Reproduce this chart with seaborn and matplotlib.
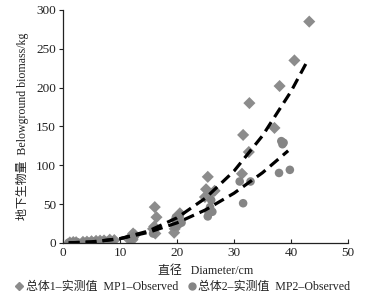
import seaborn as sns
import pandas as pd
import matplotlib.pyplot as plt
import numpy as np
from matplotlib.lines import Line2D

sns.set_theme(style='white')
plt.rcParams['font.family'] = ['Liberation Serif', 'Noto Sans CJK SC']
plt.rcParams['axes.unicode_minus'] = False

# observed points, MP1 (diamonds)
mp1_x = [1.2, 1.8, 2.3, 3.5, 4.2, 5.0, 5.8, 6.5, 7.2, 8.2, 9.0,
         11.5, 12.0, 12.3, 12.6, 12.2,
         16.1, 16.4, 16.0, 16.2, 15.8,
         19.5, 19.6, 20.0, 20.2, 19.8, 20.5,
         24.9, 25.1, 25.4, 26.6, 25.7,
         31.4, 31.6, 32.6, 32.7,
         37.1, 38.0, 40.6, 43.2]
mp1_y = [0.5, 1, 0.8, 1.2, 1.5, 2, 2.5, 2.8, 3, 4, 3.5,
         5, 8, 12, 10, 4,
         46, 33, 21, 12, 18,
         13, 18, 25, 33, 30, 38,
         59, 69, 85, 67, 62,
         89, 139, 117, 180,
         148, 202, 235, 285]

# observed points, MP2 (circles)
mp2_x = [1.0, 1.5, 2.0, 2.5, 3.8, 4.5, 5.5, 6.2, 7.0, 7.8, 8.5,
         11.8, 12.3, 12.6,
         16.0, 15.8,
         19.6, 20.0, 20.5, 20.8, 20.3, 19.8,
         25.4, 25.6, 25.8, 26.0, 25.5, 26.2,
         31.0, 31.6, 32.9,
         37.9, 38.3, 38.7, 38.5, 39.8]
mp2_y = [0.3, 0.5, 0.6, 0.8, 1, 1.2, 1.5, 2, 2.2, 2.5, 3,
         5, 7, 9,
         16, 12,
         21, 29, 36, 26, 24, 33,
         34, 38, 46, 55, 41, 40,
         79, 51, 79,
         90, 131, 129, 127, 94]

# fitted curves
fit1_x = [1, 5, 10, 15, 20, 25, 30, 35, 40, 43]
fit1_y = [0.0, 0.9, 5.3, 15.2, 32.2, 57.6, 92.4, 138, 195, 236]
fit2_x = [1, 5, 10, 15, 20, 25, 30, 35, 39.5]
fit2_y = [0.0, 1.2, 5.4, 13.5, 25.7, 42.4, 63.9, 90.3, 118.6]

pts = pd.concat([
    pd.DataFrame({'x': mp1_x, 'y': mp1_y, 'series': 'MP1'}),
    pd.DataFrame({'x': mp2_x, 'y': mp2_y, 'series': 'MP2'}),
])
fits = pd.concat([
    pd.DataFrame({'x': fit1_x, 'y': fit1_y, 'series': 'MP1'}),
    pd.DataFrame({'x': fit2_x, 'y': fit2_y, 'series': 'MP2'}),
])

fig = plt.figure(figsize=(3.75, 3.02), dpi=100)
ax = fig.add_axes([0.168, 0.196, 0.76, 0.771])

sns.scatterplot(data=pts, x='x', y='y', hue='series', style='series',
                markers={'MP1': 'D', 'MP2': 'o'},
                palette={'MP1': '#8c8c8c', 'MP2': '#858585'},
                s=38, linewidth=0, ax=ax, legend=False, zorder=2)
sns.lineplot(data=fits, x='x', y='y', units='series', estimator=None,
             color='black', lw=2.3, ax=ax, legend=False, zorder=3,
             dashes=False)
for ln in ax.get_lines():
    ln.set_dashes([3.4, 1.9])

ax.set_xlim(0, 50)
ax.set_ylim(0, 300)
ax.set_xticks(range(0, 51, 10))
ax.set_yticks(range(0, 301, 50))
for s in ['top', 'right']:
    ax.spines[s].set_visible(False)
for s in ['left', 'bottom']:
    ax.spines[s].set_color('#222222')
    ax.spines[s].set_linewidth(0.9)
ax.tick_params(axis='x', direction='in', length=3, width=0.8, labelsize=9.5,
               pad=3, colors='#222222', bottom=True)
ax.tick_params(axis='y', direction='out', length=3, width=0.8, labelsize=9.5,
               pad=2, colors='#222222', left=True)
ax.set_xlabel('直径   Diameter/cm', fontsize=8.6, color='#222222', labelpad=4)
ax.set_ylabel('地下生物量  Belowground biomass/kg', fontsize=8.6,
              color='#222222', labelpad=5)

handles = [
    Line2D([], [], marker='D', color='#8c8c8c', ls='none', markersize=4.5),
    Line2D([], [], marker='o', color='#858585', ls='none', markersize=5),
]
labels = ['总体1–实测值  MP1–Observed', '总体2–实测值  MP2–Observed']
fig.legend(handles, labels, loc='center', bbox_to_anchor=(0.485, 0.05),
           ncol=2, frameon=False, fontsize=8.6, handletextpad=0.05,
           columnspacing=0.6, handlelength=1.0, labelcolor='#222222')

fig.savefig('out.png', dpi=100)
